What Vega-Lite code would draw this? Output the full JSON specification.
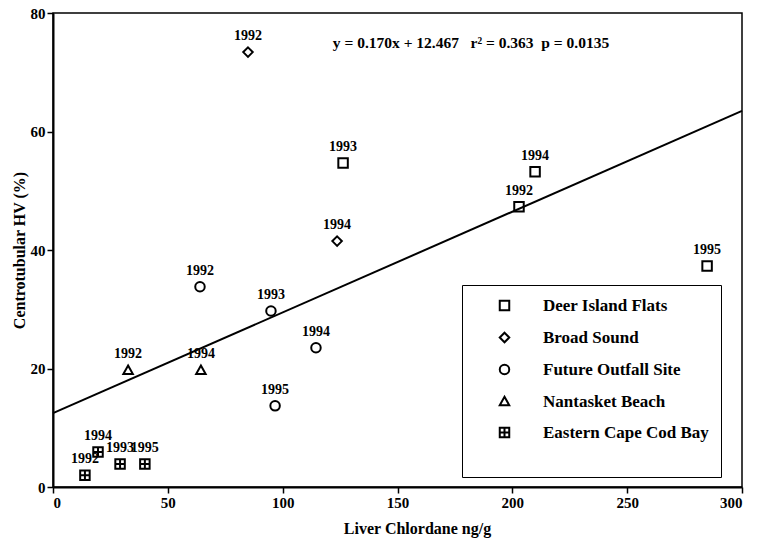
{
  "$schema": "https://vega.github.io/schema/vega-lite/v6.json",
  "width": 689,
  "height": 474,
  "autosize": {"type": "none"},
  "padding": {"left": 53, "top": 13, "right": 15, "bottom": 58},
  "background": "white",
  "config": {
    "view": {"stroke": "black", "strokeWidth": 1.5},
    "font": "Liberation Serif",
    "axis": {
      "grid": false,
      "domainColor": "black",
      "domainWidth": 2,
      "tickColor": "black",
      "tickWidth": 1.5,
      "tickSize": 6,
      "labelFont": "Liberation Serif",
      "labelFontWeight": "bold",
      "labelFontSize": 15,
      "labelColor": "black",
      "titleFont": "Liberation Serif",
      "titleFontWeight": "bold",
      "titleFontSize": 16,
      "titleColor": "black"
    }
  },
  "data": {
    "values": [
      {"site": "Deer Island Flats", "year": "1993", "chlordane": 126.3, "hv": 54.7},
      {"site": "Deer Island Flats", "year": "1994", "chlordane": 209.9, "hv": 53.2},
      {"site": "Deer Island Flats", "year": "1992", "chlordane": 202.9, "hv": 47.3},
      {"site": "Deer Island Flats", "year": "1995", "chlordane": 284.8, "hv": 37.3},
      {"site": "Broad Sound", "year": "1992", "chlordane": 84.9, "hv": 73.4},
      {"site": "Broad Sound", "year": "1994", "chlordane": 123.7, "hv": 41.5},
      {"site": "Future Outfall Site", "year": "1992", "chlordane": 64.0, "hv": 33.8},
      {"site": "Future Outfall Site", "year": "1993", "chlordane": 94.9, "hv": 29.7},
      {"site": "Future Outfall Site", "year": "1994", "chlordane": 114.5, "hv": 23.5},
      {"site": "Future Outfall Site", "year": "1995", "chlordane": 96.7, "hv": 13.7},
      {"site": "Nantasket Beach", "year": "1992", "chlordane": 32.7, "hv": 19.7},
      {"site": "Nantasket Beach", "year": "1994", "chlordane": 64.4, "hv": 19.7},
      {"site": "Eastern Cape Cod Bay", "year": "1992", "chlordane": 13.9, "hv": 2.0},
      {"site": "Eastern Cape Cod Bay", "year": "1994", "chlordane": 19.6, "hv": 5.9},
      {"site": "Eastern Cape Cod Bay", "year": "1993", "chlordane": 29.2, "hv": 3.9},
      {"site": "Eastern Cape Cod Bay", "year": "1995", "chlordane": 40.0, "hv": 3.9}
    ]
  },
  "layer": [
    {
      "data": {"values": [{"chlordane": 0, "hv": 12.467}, {"chlordane": 300, "hv": 63.467}]},
      "mark": {"type": "line", "color": "black", "strokeWidth": 2},
      "encoding": {
        "x": {"field": "chlordane", "type": "quantitative"},
        "y": {"field": "hv", "type": "quantitative"}
      }
    },
    {
      "mark": {"type": "point", "filled": false, "stroke": "black", "strokeWidth": 2, "size": 90, "opacity": 1},
      "encoding": {
        "x": {
          "field": "chlordane", "type": "quantitative",
          "scale": {"domain": [0, 300], "nice": false},
          "axis": {"values": [0, 50, 100, 150, 200, 250, 300], "title": "Liver Chlordane ng/g", "titlePadding": 10, "titleX": 364}
        },
        "y": {
          "field": "hv", "type": "quantitative",
          "scale": {"domain": [0, 80], "nice": false},
          "axis": {"values": [0, 20, 40, 60, 80], "title": "Centrotubular HV (%)", "titlePadding": 3}
        },
        "shape": {
          "field": "site", "type": "nominal",
          "scale": {
            "domain": ["Deer Island Flats", "Broad Sound", "Future Outfall Site", "Nantasket Beach", "Eastern Cape Cod Bay"],
            "range": ["square", "M0,-1L1,0L0,1L-1,0Z", "circle", "M0,-1L1,0.8L-1,0.8Z", "M-1,-1H1V1H-1Z M0,-1V1 M-1,0H1"]
          },
          "legend": {
            "orient": "none",
            "legendX": 409,
            "legendY": 272,
            "title": " ",
            "titleOrient": "bottom",
            "titleFontSize": 14,
            "titlePadding": 10,
            "strokeColor": "black",
            "padding": 12,
            "symbolOffset": 22,
            "labelOffset": 30,
            "rowPadding": 13,
            "symbolSize": 90,
            "symbolStrokeColor": "black",
            "symbolStrokeWidth": 2,
            "symbolFillColor": "transparent",
            "labelFont": "Liberation Serif",
            "labelFontWeight": "bold",
            "labelFontSize": 17,
            "labelColor": "black",
            "labelLimit": 300
          }
        }
      }
    },
    {
      "mark": {"type": "text", "dy": -16, "font": "Liberation Serif", "fontWeight": "bold", "fontSize": 14, "color": "black"},
      "encoding": {
        "x": {"field": "chlordane", "type": "quantitative"},
        "y": {"field": "hv", "type": "quantitative"},
        "text": {"field": "year"}
      }
    },
    {
      "data": {"values": [{"chlordane": 182, "hv": 74.9, "label": "y = 0.170x + 12.467\u00a0\u00a0\u00a0r² = 0.363\u00a0\u00a0p = 0.0135"}]},
      "mark": {"type": "text", "font": "Liberation Serif", "fontWeight": "bold", "fontSize": 15.5, "color": "black"},
      "encoding": {
        "x": {"field": "chlordane", "type": "quantitative"},
        "y": {"field": "hv", "type": "quantitative"},
        "text": {"field": "label"}
      }
    }
  ]
}
